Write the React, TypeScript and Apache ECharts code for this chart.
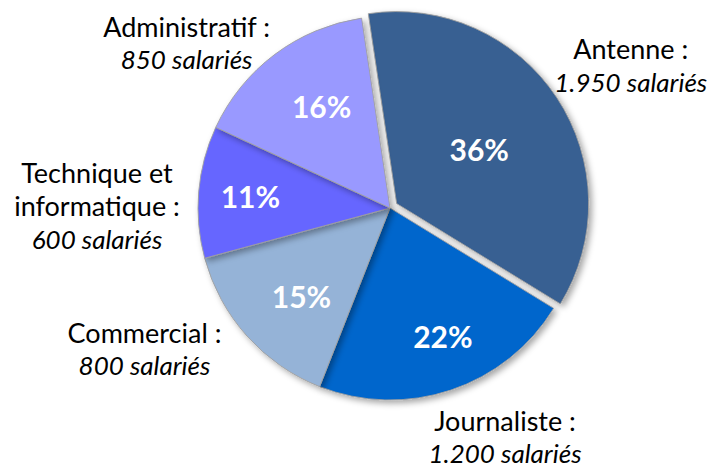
import React, { useEffect, useRef } from 'react';
import * as echarts from 'echarts';

// ---- Data ----
const categories = ['Antenne', 'Journaliste', 'Commercial', 'Technique et\ninformatique', 'Administratif'];
const employees = [1950, 1200, 800, 600, 850];
const employeeLabels = ['1.950', '1.200', '800', '600', '850'];

// ---- Style / layout ----
const COLORS = ['#376092', '#0066CC', '#95B3D7', '#6666FF', '#9999FF'];
const CENTER = [390, 208];
const RADIUS = 192;
const START_ANGLE = 98.5;
// label radius (fraction of pie radius) and angular shift for the percentage labels
const INNER_LABEL_R = [0.54, 0.72, 0.65, 0.73, 0.64];
const INNER_LABEL_SHIFT = [0, 4, 3, 0, -3];
// outer label polar placement: distance in px and angular shift from slice mid-angle
const OUTER_LABEL_DIST = [280, 256, 283, 293, 262];
const OUTER_LABEL_SHIFT = [-2.8, 8.2, -12, 4.4, 14.1];
const FONT = 'Lato, "Open Sans", sans-serif';

const total = employees.reduce((a, b) => a + b, 0);
const midAngles = (() => {
  let cum = 0;
  return employees.map((v) => {
    const m = START_ANGLE - (360 * (cum + v / 2)) / total;
    cum += v;
    return m;
  });
})();

function polar(dist: number, angDeg: number) {
  const a = (angDeg * Math.PI) / 180;
  return [CENTER[0] + dist * Math.cos(a), CENTER[1] - dist * Math.sin(a)];
}

export default function App() {
  const ref = useRef<HTMLDivElement>(null);
  useEffect(() => {
    if (!ref.current) return;
    const chart = echarts.init(ref.current, undefined, { renderer: 'svg' });
    const data = categories.map((c, i) => ({
      name: c,
      value: employees[i],
      selected: i === 0,
      itemStyle: { color: COLORS[i] },
    }));
    chart.setOption({
      animation: false,
      backgroundColor: '#ffffff',
      series: [
        {
          type: 'pie',
          center: CENTER,
          radius: RADIUS,
          startAngle: START_ANGLE,
          clockwise: true,
          selectedMode: 'single',
          selectedOffset: 8,
          avoidLabelOverlap: false,
          emphasis: { disabled: true },
          itemStyle: {
            borderColor: 'rgba(160,160,160,0.9)',
            borderWidth: 1,
            shadowBlur: 6,
            shadowOffsetX: 3,
            shadowOffsetY: 3,
            shadowColor: 'rgba(0,0,0,0.35)',
          },
          label: {
            show: true,
            position: 'inside',
            color: '#ffffff',
            fontFamily: FONT,
            fontWeight: 'bold',
            fontSize: 30,
            formatter: (p: any) => Math.round(p.percent) + '%',
          },
          labelLine: { show: false },
          labelLayout: (p: any) => {
            const i = p.dataIndex;
            const [x, y] = polar(INNER_LABEL_R[i] * RADIUS, midAngles[i] + INNER_LABEL_SHIFT[i]);
            return { x, y, align: 'center', verticalAlign: 'middle' };
          },
          data,
        },
        {
          type: 'pie',
          center: CENTER,
          radius: RADIUS,
          startAngle: START_ANGLE,
          clockwise: true,
          silent: true,
          avoidLabelOverlap: false,
          itemStyle: { color: 'rgba(0,0,0,0)' },
          label: {
            show: true,
            position: 'outside',
            fontFamily: FONT,
            color: '#000000',
            align: 'center',
            lineHeight: 33,
            formatter: (p: any) => {
              const i = p.dataIndex;
              const lines = categories[i].split('\n');
              lines[lines.length - 1] += ' :';
              return lines.map((l) => '{n|' + l + '}').join('\n') + '\n{v|' + employeeLabels[i] + ' salariés}';
            },
            rich: {
              n: { fontFamily: FONT, fontSize: 27, color: '#000000', lineHeight: 33, align: 'center' },
              v: { fontFamily: FONT, fontSize: 26, fontStyle: 'italic', color: '#000000', lineHeight: 33, align: 'center' },
            },
          },
          labelLine: { show: false },
          labelLayout: (p: any) => {
            const i = p.dataIndex;
            const [x, y] = polar(OUTER_LABEL_DIST[i], midAngles[i] + OUTER_LABEL_SHIFT[i]);
            return { x, y, align: 'center', verticalAlign: 'middle' };
          },
          data: categories.map((c, i) => ({ name: c, value: employees[i] })),
        },
      ],
    });
    return () => chart.dispose();
  }, []);
  return (
    <div
      ref={ref}
      style={{ position: 'absolute', left: 0, top: 0, width: 709, height: 473, background: '#fff' }}
    />
  );
}
